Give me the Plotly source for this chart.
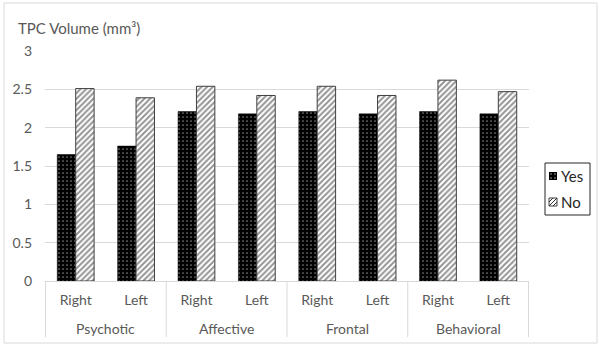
import plotly.graph_objects as go

regions = ["Psychotic", "Affective", "Frontal", "Behavioral"]
sides = ["Right", "Left"]
yes_vals = [1.65, 1.76, 2.21, 2.18, 2.21, 2.18, 2.21, 2.18]
no_vals = [2.51, 2.39, 2.54, 2.42, 2.54, 2.42, 2.62, 2.47]
y_ticks = [0, 0.5, 1, 1.5, 2, 2.5, 3]
y_tick_text = ["0", "0.5", "1", "1.5", "2", "2.5", "3"]

W, H = 600, 348
ML, MR, MT, MB = 45, 71, 51, 67
PW, PH = W - ML - MR, H - MT - MB

FONT = "Lato, Open Sans, sans-serif"
TXT = "#595959"
GRID = "#d9d9d9"


def px(x):
    return (x - ML) / PW


def py(y):
    return (H - MB - y) / PH


# one category per bar pair, labelled with the side only
keys = [f"{r} {s}" for r in regions for s in sides]
side_text = [s for r in regions for s in sides]

YES_PATTERN = dict(shape=".", fgcolor="white", bgcolor="black", size=4, solidity=0.15)
NO_PATTERN = dict(shape="/", fgcolor="#262626", bgcolor="white", size=4, solidity=0.48)

fig = go.Figure()
fig.add_trace(go.Bar(
    x=keys, y=yes_vals, name="Yes",
    marker=dict(color="black", line=dict(color="black", width=0.5),
                pattern=YES_PATTERN),
))
fig.add_trace(go.Bar(
    x=keys, y=no_vals, name="No",
    marker=dict(color="white", line=dict(color="#404040", width=1),
                pattern=NO_PATTERN),
))

shapes = []
annotations = []

# group dividers below the category axis
n_groups = len(regions)
per = len(sides)
for g in range(n_groups + 1):
    xd = g * per - 0.5
    shapes.append(dict(type="line", xref="x", yref="paper",
                       x0=xd, x1=xd, y0=0, y1=py(337),
                       line=dict(color=GRID, width=1)))
for g, r in enumerate(regions):
    annotations.append(dict(text=r, xref="x", yref="paper",
                            x=g * per + (per - 1) / 2, y=py(328),
                            xanchor="center", yanchor="middle", showarrow=False,
                            font=dict(family=FONT, size=14, color=TXT)))

# axis title placed above the value axis
annotations.append(dict(text="TPC Volume (mm³)", xref="paper", yref="paper",
                        x=px(16), y=py(28), xanchor="left", yanchor="middle",
                        showarrow=False, font=dict(family=FONT, size=15, color=TXT)))

# legend box with small swatches
shapes.append(dict(type="rect", xref="paper", yref="paper",
                   x0=px(545), x1=px(590), y0=py(163), y1=py(215),
                   line=dict(color="#262626", width=1), fillcolor="white"))
shapes.append(dict(type="rect", xref="paper", yref="paper",
                   x0=px(549), x1=px(557), y0=py(172), y1=py(180),
                   line=dict(width=0), fillcolor="black"))
for dx in (551, 555):
    for dy in (174, 178):
        shapes.append(dict(type="rect", xref="paper", yref="paper",
                           x0=px(dx - 0.6), x1=px(dx + 0.6),
                           y0=py(dy - 0.6), y1=py(dy + 0.6),
                           line=dict(width=0), fillcolor="white"))
shapes.append(dict(type="rect", xref="paper", yref="paper",
                   x0=px(549), x1=px(557), y0=py(198), y1=py(206),
                   line=dict(color="#404040", width=1), fillcolor="white"))
# hatch strokes inside the "No" swatch (bottom-left to top-right)
for (ax, ay, bx, by) in ((549, 202, 553, 198), (549, 206, 557, 198), (553, 206, 557, 202)):
    shapes.append(dict(type="line", xref="paper", yref="paper",
                       x0=px(ax), y0=py(ay), x1=px(bx), y1=py(by),
                       line=dict(color="#303030", width=1)))
for label, yc in (("Yes", 176), ("No", 202)):
    annotations.append(dict(text=label, xref="paper", yref="paper",
                            x=px(559), y=py(yc), xanchor="left", yanchor="middle",
                            showarrow=False,
                            font=dict(family=FONT, size=15, color="#262626")))

# outer chart border
shapes.append(dict(type="rect", xref="paper", yref="paper",
                   x0=px(4), x1=px(597), y0=py(343), y1=py(3),
                   line=dict(color=GRID, width=1)))

fig.update_layout(
    width=W, height=H,
    margin=dict(l=ML, r=MR, t=MT, b=MB),
    paper_bgcolor="white", plot_bgcolor="white",
    barmode="group", bargap=0.39, bargroupgap=0,
    font=dict(family=FONT, size=14, color=TXT),
    showlegend=False,
    xaxis=dict(
        type="category", categoryorder="array", categoryarray=keys,
        tickvals=keys, ticktext=side_text,
        showline=True, linecolor=GRID, linewidth=1,
        showgrid=False, ticks="", ticklabelstandoff=6,
        tickfont=dict(family=FONT, size=14, color=TXT),
    ),
    yaxis=dict(
        range=[0, 3], tickvals=y_ticks, ticktext=y_tick_text,
        showgrid=True, gridcolor=GRID, gridwidth=1,
        zeroline=False, showline=False, ticks="",
        ticklabelstandoff=12,
        tickfont=dict(family=FONT, size=14, color=TXT),
    ),
    shapes=shapes,
    annotations=annotations,
)

fig.write_html("out.html")
